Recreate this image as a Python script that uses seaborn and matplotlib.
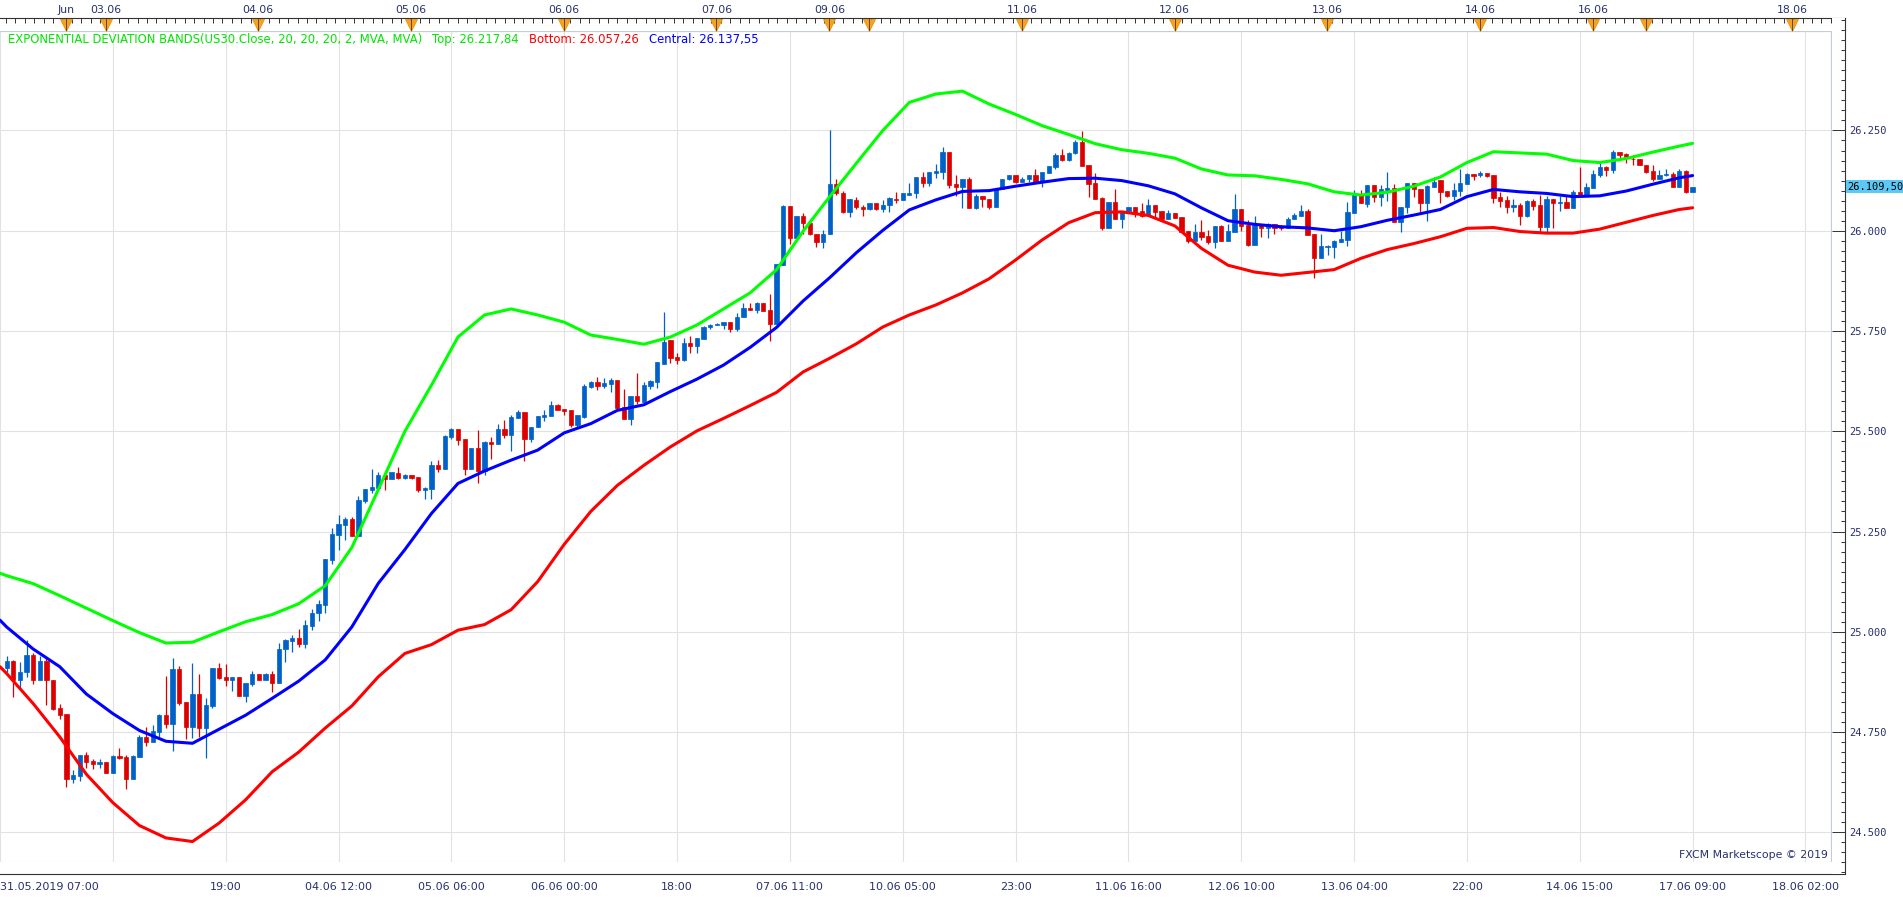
import numpy as np
import pandas as pd
import matplotlib
matplotlib.use("Agg")
import matplotlib.pyplot as plt
from matplotlib.ticker import MultipleLocator, FuncFormatter
import seaborn as sns

sns.set_style("white")
plt.rcParams["font.family"] = ["DejaVu Sans"]

# US30 hourly candles (index 0 = first visible candle)
opens = [
    24910, 24927, 24880, 24899, 24943, 24880, 24927, 24880, 24809, 24794,
    24634, 24640, 24693, 24678, 24671, 24675, 24649, 24690, 24688, 24634,
    24688, 24738, 24726, 24751, 24792, 24771, 24907, 24825, 24762, 24845,
    24761, 24815, 24910, 24887, 24880, 24887, 24841, 24871, 24895, 24880,
    24895, 24873, 24956, 24978, 24984, 24969, 25015, 25046, 25067, 25179,
    25241, 25266, 25281, 25239, 25327, 25354, 25358, 25392, 25382, 25397,
    25384, 25390, 25385, 25354, 25357, 25416, 25406, 25486, 25505, 25480,
    25406, 25458, 25401, 25473, 25469, 25505, 25490, 25534, 25548, 25480,
    25510, 25536, 25538, 25565, 25555, 25553, 25515, 25536, 25611, 25623,
    25613, 25617, 25627, 25561, 25530, 25588, 25573, 25613, 25623, 25667,
    25727, 25685, 25677, 25719, 25713, 25731, 25759, 25764, 25766, 25772,
    25755, 25784, 25808, 25802, 25819, 25802, 25767, 25914, 26061, 25982,
    26036, 26020, 25993, 25972, 25991, 26116, 26095, 26047, 26076, 26060,
    26054, 26070, 26054, 26065, 26080, 26076, 26090, 26093, 26133, 26119,
    26145, 26147, 26197, 26116, 26109, 26130, 26057, 26086, 26078, 26060,
    26103, 26129, 26138, 26122, 26129, 26138, 26122, 26145, 26159, 26188,
    26176, 26193, 26222, 26164, 26119, 26082, 26006, 26072, 26030, 26050,
    26060, 26050, 26039, 26064, 26049, 26028, 26043, 26034, 25999, 25974,
    25997, 25986, 25972, 26011, 25975, 25997, 26055, 26014, 25964, 26018,
    26006, 26018, 26011, 26008, 26030, 26036, 26050, 25991, 25932, 25960,
    25960, 25972, 25977, 26045, 26091, 26066, 26114, 26085, 26102, 26106,
    26022, 26058, 26118, 26103, 26070, 26109, 26126, 26099, 26086, 26099,
    26116, 26141, 26138, 26144, 26139, 26083, 26076, 26058, 26064, 26037,
    26075, 26064, 26010, 26079, 26068, 26072, 26057, 26097, 26089, 26107,
    26139, 26159, 26151, 26196, 26191, 26180, 26178, 26165, 26149, 26129,
    26139, 26141, 26110, 26149, 26097,
]
highs = [
    24939, 24929, 24924, 24979, 24946, 24939, 24934, 24881, 24820, 24794,
    24655, 24693, 24700, 24684, 24682, 24675, 24694, 24711, 24693, 24693,
    24743, 24762, 24767, 24795, 24890, 24934, 24915, 24825, 24923, 24895,
    24834, 24910, 24923, 24920, 24887, 24887, 24873, 24903, 24895, 24898,
    24902, 24971, 24981, 24992, 25008, 25029, 25056, 25079, 25181, 25258,
    25291, 25287, 25285, 25338, 25356, 25407, 25398, 25392, 25398, 25410,
    25393, 25390, 25385, 25360, 25426, 25428, 25490, 25507, 25505, 25480,
    25458, 25503, 25476, 25485, 25518, 25529, 25541, 25554, 25548, 25510,
    25538, 25553, 25575, 25569, 25555, 25553, 25540, 25619, 25625, 25636,
    25632, 25632, 25627, 25605, 25588, 25646, 25623, 25627, 25673, 25798,
    25727, 25696, 25733, 25737, 25733, 25763, 25767, 25769, 25772, 25772,
    25794, 25820, 25819, 25823, 25819, 25842, 25918, 26064, 26061, 26036,
    26043, 26020, 25993, 26001, 26250, 26130, 26100, 26078, 26083, 26065,
    26070, 26070, 26076, 26085, 26097, 26093, 26118, 26133, 26147, 26147,
    26166, 26209, 26197, 26139, 26130, 26133, 26091, 26086, 26078, 26103,
    26130, 26138, 26138, 26133, 26138, 26153, 26147, 26162, 26194, 26203,
    26197, 26226, 26249, 26164, 26143, 26085, 26072, 26105, 26050, 26060,
    26060, 26068, 26080, 26064, 26049, 26051, 26043, 26035, 25999, 26016,
    26026, 26003, 26011, 26014, 26018, 26091, 26055, 26026, 26036, 26018,
    26020, 26018, 26015, 26035, 26045, 26064, 26055, 25991, 25993, 25964,
    25978, 26000, 26072, 26101, 26101, 26114, 26114, 26114, 26147, 26116,
    26060, 26118, 26118, 26103, 26114, 26134, 26126, 26099, 26119, 26153,
    26143, 26141, 26149, 26144, 26139, 26097, 26086, 26080, 26068, 26076,
    26080, 26089, 26086, 26079, 26086, 26086, 26101, 26159, 26119, 26151,
    26168, 26161, 26201, 26196, 26193, 26188, 26178, 26165, 26165, 26151,
    26153, 26147, 26153, 26151, 26110,
]
lows = [
    24900, 24838, 24859, 24888, 24871, 24880, 24817, 24805, 24782, 24614,
    24622, 24628, 24661, 24658, 24661, 24649, 24649, 24682, 24609, 24634,
    24688, 24716, 24726, 24737, 24761, 24703, 24817, 24733, 24736, 24738,
    24686, 24811, 24883, 24866, 24852, 24841, 24826, 24865, 24880, 24880,
    24851, 24873, 24925, 24950, 24963, 24959, 25004, 25028, 25047, 25168,
    25204, 25230, 25239, 25239, 25322, 25347, 25358, 25353, 25382, 25381,
    25382, 25380, 25349, 25332, 25332, 25399, 25406, 25480, 25465, 25391,
    25406, 25372, 25391, 25430, 25469, 25482, 25450, 25534, 25426, 25474,
    25510, 25526, 25538, 25554, 25541, 25511, 25510, 25534, 25607, 25603,
    25609, 25598, 25553, 25530, 25515, 25568, 25571, 25605, 25609, 25667,
    25669, 25667, 25675, 25696, 25696, 25731, 25755, 25764, 25756, 25748,
    25750, 25784, 25802, 25796, 25800, 25726, 25760, 25914, 25968, 25981,
    25993, 25989, 25960, 25957, 25991, 26090, 26045, 26035, 26054, 26036,
    26051, 26051, 26047, 26047, 26070, 26076, 26089, 26082, 26109, 26112,
    26132, 26130, 26107, 26086, 26057, 26057, 26053, 26060, 26053, 26058,
    26103, 26126, 26119, 26122, 26122, 26119, 26109, 26145, 26153, 26174,
    26174, 26191, 26162, 26085, 26080, 26001, 26006, 26030, 26008, 26047,
    26035, 26035, 26039, 26035, 26026, 26028, 26031, 25997, 25970, 25974,
    25977, 25966, 25956, 25975, 25975, 25997, 26000, 25962, 25964, 25985,
    25981, 25991, 26003, 26008, 26030, 26036, 25989, 25883, 25931, 25939,
    25932, 25972, 25962, 26045, 26068, 26058, 26072, 26061, 26075, 26022,
    25997, 26043, 26083, 26047, 26025, 26109, 26070, 26083, 26076, 26086,
    26116, 26126, 26135, 26135, 26068, 26058, 26043, 26047, 26014, 26035,
    26051, 25997, 25997, 26006, 26050, 26057, 26057, 26089, 26086, 26107,
    26134, 26136, 26143, 26178, 26168, 26165, 26165, 26143, 26124, 26129,
    26136, 26108, 26110, 26095, 26097,
]
closes = [
    24927, 24880, 24899, 24942, 24880, 24927, 24880, 24807, 24792, 24634,
    24643, 24693, 24676, 24671, 24675, 24649, 24690, 24686, 24634, 24690,
    24738, 24726, 24752, 24792, 24771, 24907, 24823, 24762, 24845, 24761,
    24817, 24910, 24885, 24880, 24887, 24841, 24873, 24895, 24880, 24895,
    24873, 24956, 24979, 24984, 24969, 25017, 25046, 25069, 25181, 25244,
    25268, 25281, 25239, 25328, 25356, 25360, 25392, 25381, 25398, 25383,
    25391, 25384, 25353, 25358, 25416, 25406, 25488, 25505, 25478, 25406,
    25458, 25401, 25473, 25469, 25505, 25490, 25535, 25549, 25480, 25510,
    25538, 25541, 25565, 25554, 25551, 25515, 25540, 25613, 25623, 25613,
    25621, 25627, 25557, 25530, 25588, 25576, 25615, 25625, 25673, 25723,
    25683, 25677, 25721, 25713, 25733, 25760, 25765, 25767, 25772, 25755,
    25785, 25808, 25802, 25819, 25800, 25767, 25918, 26061, 25982, 26036,
    26020, 25993, 25972, 25991, 26116, 26095, 26047, 26078, 26058, 26055,
    26070, 26054, 26065, 26082, 26076, 26093, 26094, 26133, 26119, 26147,
    26149, 26197, 26114, 26109, 26130, 26057, 26086, 26078, 26060, 26103,
    26130, 26138, 26122, 26129, 26138, 26122, 26147, 26162, 26188, 26176,
    26194, 26222, 26162, 26116, 26080, 26006, 26072, 26030, 26050, 26060,
    26045, 26037, 26064, 26047, 26028, 26045, 26031, 25997, 25974, 25997,
    25985, 25972, 26011, 25975, 25999, 26055, 26012, 25964, 26014, 26006,
    26018, 26008, 26008, 26030, 26039, 26050, 25989, 25932, 25962, 25962,
    25974, 25980, 26047, 26091, 26068, 26114, 26085, 26105, 26106, 26022,
    26058, 26118, 26103, 26070, 26111, 26122, 26097, 26086, 26101, 26119,
    26141, 26137, 26144, 26137, 26082, 26075, 26058, 26063, 26037, 26075,
    26062, 26010, 26079, 26068, 26072, 26057, 26097, 26089, 26109, 26141,
    26159, 26151, 26196, 26189, 26183, 26178, 26165, 26147, 26128, 26140,
    26141, 26110, 26149, 26097, 26109.5,
]

# band values sampled every 4 candles
band_idx = [-1, 0] + list(range(4, 253, 4)) + [254]
band_top = [
    25146, 25140, 25120, 25090, 25059, 25028, 24998, 24972, 24974, 25000,
    25025, 25043, 25070, 25115, 25210, 25355, 25500, 25615, 25735, 25790,
    25805, 25790, 25772, 25740, 25729, 25717, 25735, 25765, 25805, 25845,
    25903, 25999, 26085, 26168, 26250, 26320, 26341, 26348, 26316, 26290,
    26262, 26240, 26217, 26202, 26193, 26181, 26154, 26139, 26137, 26128,
    26117, 26097, 26089, 26096, 26111, 26134, 26170, 26197, 26194, 26191,
    26175, 26170, 26180, 26196, 26211, 26217.84,
]
band_central = [
    25029, 25012, 24957, 24913, 24845, 24796, 24754, 24727, 24722, 24757,
    24792, 24834, 24877, 24930, 25012, 25121, 25205, 25295, 25370, 25401,
    25428, 25453, 25496, 25519, 25552, 25566, 25599, 25630, 25665, 25709,
    25759, 25825, 25883, 25945, 26001, 26052, 26077, 26098, 26100, 26111,
    26121, 26130, 26131, 26125, 26112, 26092, 26057, 26025, 26016, 26010,
    26007, 26000, 26010, 26026, 26039, 26053, 26085, 26103, 26097, 26093,
    26085, 26087, 26099, 26116, 26132, 26137.55,
]
band_bottom = [
    24913, 24896, 24821, 24738, 24645, 24574, 24517, 24486, 24477, 24523,
    24581, 24651, 24700, 24760, 24815, 24888, 24946, 24968, 25004, 25018,
    25055, 25125, 25218, 25300, 25365, 25415, 25461, 25501, 25532, 25564,
    25597, 25648, 25682, 25718, 25760, 25790, 25815, 25845, 25880, 25927,
    25977, 26020, 26045, 26047, 26038, 26012, 25956, 25914, 25897, 25889,
    25896, 25903, 25931, 25953, 25968, 25985, 26006, 26008, 25998, 25994,
    25994, 26004, 26021, 26038, 26053, 26057.26,
]

grid_idx = list(range(-1, 272, 17))
grid_labels = ["31.05.2019 07:00", "", "19:00", "04.06 12:00", "05.06 06:00",
               "06.06 00:00", "18:00", "07.06 11:00", "10.06 05:00", "23:00",
               "11.06 16:00", "12.06 10:00", "13.06 04:00", "22:00",
               "14.06 15:00", "17.06 09:00", "18.06 02:00"]
date_idx = [9, 15, 38, 61, 84, 107, 124, 130, 153, 176, 199, 222, 239, 247, 269]
date_labels = ["Jun", "03.06", "04.06", "05.06", "06.06", "07.06", "09.06", "",
               "11.06", "12.06", "13.06", "14.06", "16.06", "", "18.06"]

# layout (pixels)
W, H = 1903, 900
PT, PB, PR, AX_R = 31, 862, 1832, 1845
XLIM = (-0.9, 275.0)
YLIM = (24426, 26498)
kx = (XLIM[1] - XLIM[0]) / PR
ky = (YLIM[1] - YLIM[0]) / (PB - PT)

NAVY = "#28306c"
C_UP, C_DN = "#0062c9", "#dd0000"


def rect(l, t, r, b):
    return [l / W, 1 - b / H, (r - l) / W, (b - t) / H]


def eu(v, dec):
    s = f"{v:,.{dec}f}"
    return s.replace(",", "X").replace(".", ",").replace("X", ".")


fig = plt.figure(figsize=(W / 100, H / 100), dpi=100)
ax = fig.add_axes(rect(0, PT, PR, PB))
ax_top = fig.add_axes(rect(0, 18, AX_R, PT))
ax_bot = fig.add_axes(rect(0, PB, AX_R, 874))
ax_r = fig.add_axes(rect(PR, 18, AX_R, 874))

# candles
idx = np.arange(len(closes))
o, c = np.array(opens), np.array(closes)
cols = np.where(c >= o, C_UP, C_DN)
ax.vlines(idx, lows, highs, colors=cols, lw=0.9, zorder=2)
ax.bar(idx, np.abs(c - o), bottom=np.minimum(o, c), width=0.64,
       color=cols, edgecolor=cols, linewidth=0.5, zorder=3)

# bands
bands = pd.DataFrame({"idx": band_idx, "top": band_top,
                      "central": band_central, "bottom": band_bottom})
for col, colr in [("top", "#00ff00"), ("bottom", "#ff0000"), ("central", "#0000ff")]:
    sns.lineplot(data=bands, x="idx", y=col, ax=ax, color=colr, lw=2.2,
                 zorder=4, solid_joinstyle="round", solid_capstyle="round")

ax.set_xlim(XLIM)
ax.set_ylim(YLIM)
ax.set_xlabel("")
ax.set_ylabel("")
ax.set_xticks(grid_idx)
ax.set_yticks(range(24500, 26251, 250))
ax.grid(True, color="#e2e2e2", lw=0.8)
ax.set_axisbelow(True)
ax.tick_params(length=0, labelbottom=False, labelleft=False)
ax.spines["left"].set_visible(False)
for sp in ["top", "right"]:
    ax.spines[sp].set_color("#c3cdd9")
    ax.spines[sp].set_linewidth(1.6)
ax.spines["bottom"].set_color("#d4d4d4")
ax.text(0.998, 0.003, "FXCM Marketscope © 2019", transform=ax.transAxes,
        ha="right", va="bottom", fontsize=7.8, color=NAVY)

# top date strip
x_strip = (XLIM[0], XLIM[0] + AX_R * kx)
ax_top.set_xlim(x_strip)
ax_top.set_ylim(0, 1)
for sp in ["left", "right", "bottom"]:
    ax_top.spines[sp].set_visible(False)
ax_top.spines["top"].set_color("#333333")
ax_top.xaxis.set_ticks_position("top")
ax_top.set_xticks(date_idx, date_labels)
ax_top.xaxis.set_minor_locator(MultipleLocator(17 / 12))
ax_top.tick_params(axis="x", which="major", direction="in", length=0, pad=2,
                   labelsize=7.8, labelcolor=NAVY)
ax_top.tick_params(axis="x", which="minor", direction="in", length=3.5,
                   width=0.7, color="#333333")
ax_top.set_yticks([])
ax_top.plot(date_idx, [0.5] * len(date_idx), ls="none", marker="v", ms=8,
            color="#f6a21e", mec="#e8900a", mew=0.5)
ax_top.vlines(date_idx, 0, 1, color="#4a3a20", lw=0.6)

# bottom time strip
ax_bot.set_xlim(x_strip)
ax_bot.set_ylim(0, 1)
for sp in ["left", "right", "top"]:
    ax_bot.spines[sp].set_visible(False)
ax_bot.spines["bottom"].set_color("#333333")
ax_bot.set_xticks(grid_idx, grid_labels)
ax_bot.xaxis.set_minor_locator(MultipleLocator(17 / 8, offset=-1))
ax_bot.tick_params(axis="x", which="major", direction="in", length=8.6,
                   width=0.7, color="#333333", pad=6, labelsize=8,
                   labelcolor=NAVY)
ax_bot.tick_params(axis="x", which="minor", direction="in", length=3.5,
                   width=0.7, color="#333333")
ax_bot.get_xticklabels()[0].set_ha("left")
ax_bot.set_yticks([])

# right price axis
ax_r.set_xlim(0, 1)
ax_r.set_ylim(YLIM[0] - (874 - PB) * ky, YLIM[1] + (PT - 18) * ky)
for sp in ["left", "top", "bottom"]:
    ax_r.spines[sp].set_visible(False)
ax_r.spines["right"].set_color("#333333")
ax_r.yaxis.tick_right()
ax_r.set_yticks(range(24500, 26251, 250))
ax_r.yaxis.set_major_formatter(FuncFormatter(lambda v, p: eu(v, 0)))
ax_r.yaxis.set_minor_locator(MultipleLocator(25))
ax_r.tick_params(axis="y", which="major", direction="in", length=9.4,
                 width=0.7, color="#333333", pad=3, labelsize=7.5,
                 labelcolor=NAVY, labelfontfamily="DejaVu Sans Mono")
ax_r.tick_params(axis="y", which="minor", direction="in", length=3,
                 width=0.7, color="#333333")
ax_r.set_xticks([])
ax_r.annotate(eu(closes[-1], 2), xy=(1, closes[-1]),
              xycoords=ax_r.get_yaxis_transform(), xytext=(1.5, 0),
              textcoords="offset points", ha="left", va="center",
              fontsize=7.5, family="DejaVu Sans Mono", color="black",
              bbox=dict(boxstyle="square,pad=0.15", fc="#5cc8f5", ec="none"),
              annotation_clip=False, zorder=10)

# indicator header
fig.canvas.draw()
renderer = fig.canvas.get_renderer()
parts = [
    ("EXPONENTIAL DEVIATION BANDS(US30.Close, 20, 20, 20, 2, MVA, MVA)", "#00e600"),
    ("Top: " + eu(band_top[-1], 2), "#00e600"),
    ("Bottom: " + eu(band_bottom[-1], 2), "#ff0000"),
    ("Central: " + eu(band_central[-1], 2), "#0000ff"),
]
x = 8
for s, colr in parts:
    t = fig.text(x / W, 1 - 39.5 / H, s, color=colr, fontsize=8.4,
                 ha="left", va="center")
    x = t.get_window_extent(renderer=renderer).x1 + 10

fig.savefig("out.png", dpi=100)
